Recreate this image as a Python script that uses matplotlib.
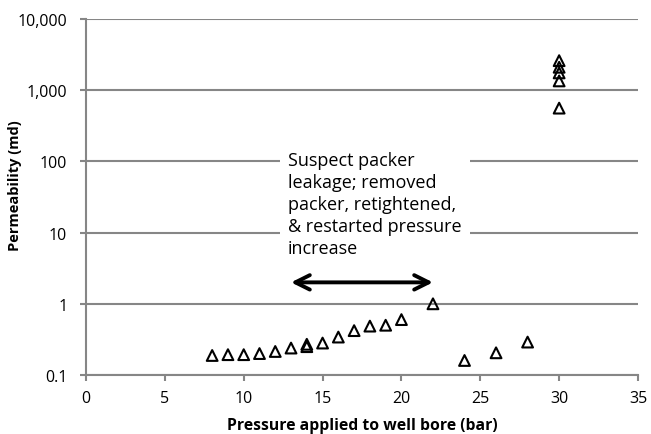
import matplotlib
matplotlib.use("Agg")
import matplotlib.pyplot as plt
from matplotlib.ticker import FixedLocator, NullLocator

plt.rcParams['font.family'] = ['Open Sans', 'DejaVu Sans']

pressure = [8, 9, 10, 11, 12, 13, 14, 14, 15, 16, 17, 18, 19, 20, 22, 24, 26, 28,
            30, 30, 30, 30, 30]
permeability = [0.188, 0.193, 0.193, 0.20, 0.214, 0.239, 0.27, 0.25, 0.281, 0.341,
                0.42, 0.486, 0.50, 0.60, 1.0, 0.16, 0.205, 0.29,
                2600, 2100, 1750, 1350, 560]
x_ticks = [0, 5, 10, 15, 20, 25, 30, 35]
y_ticks = [0.1, 1, 10, 100, 1000, 10000]
y_tick_labels = ['0.1', '1', '10', '100', '1,000', '10,000']
annotation = "Suspect packer\nleakage; removed\npacker, retightened,\n& restarted pressure\nincrease"
arrow_x = [13, 22]
arrow_y = 2.0

fig = plt.figure(figsize=(6.51, 4.35), dpi=100)
ax = fig.add_axes([86/651, 1-376/435, (638-86)/651, (376-20)/435])
ax.set_yscale('log')
ax.set_xlim(0, 35)
ax.set_ylim(0.1, 10000)

ax.scatter(pressure, permeability, marker='^', facecolors='none', edgecolors='black',
           s=60, linewidths=1.5, zorder=5, clip_on=False)

ax.yaxis.set_major_locator(FixedLocator(y_ticks))
ax.yaxis.set_minor_locator(NullLocator())
ax.set_yticklabels(y_tick_labels)
ax.set_xticks(x_ticks)

ax.grid(axis='y', color='#868686', linewidth=1.5)
ax.set_axisbelow(True)
for s in ['top', 'right']:
    ax.spines[s].set_visible(False)
for s in ['left', 'bottom']:
    ax.spines[s].set_color('#868686')
    ax.spines[s].set_linewidth(1.5)
ax.tick_params(axis='both', direction='out', color='#868686', width=1.5, length=4,
               labelsize=11.5, labelcolor='black')
ax.tick_params(axis='y', pad=9.5)
ax.tick_params(axis='x', pad=7)

ax.set_xlabel('Pressure applied to well bore (bar)', fontsize=11.3, fontweight='bold', labelpad=8)
ax.set_ylabel('Permeability (md)', fontsize=10.5, fontweight='bold')
ax.yaxis.set_label_coords(-0.116, 0.534)

ax.text(12.8, 140, annotation, fontsize=13, ha='left', va='top', linespacing=1.29,
        bbox=dict(facecolor='white', edgecolor='none', pad=6), zorder=4)

ax.annotate('', xy=(arrow_x[1], arrow_y), xytext=(arrow_x[0], arrow_y),
            arrowprops=dict(arrowstyle='<->', color='black', lw=2.8,
                            mutation_scale=26, shrinkA=0, shrinkB=0), zorder=6)

fig.savefig('out.png', dpi=100)
